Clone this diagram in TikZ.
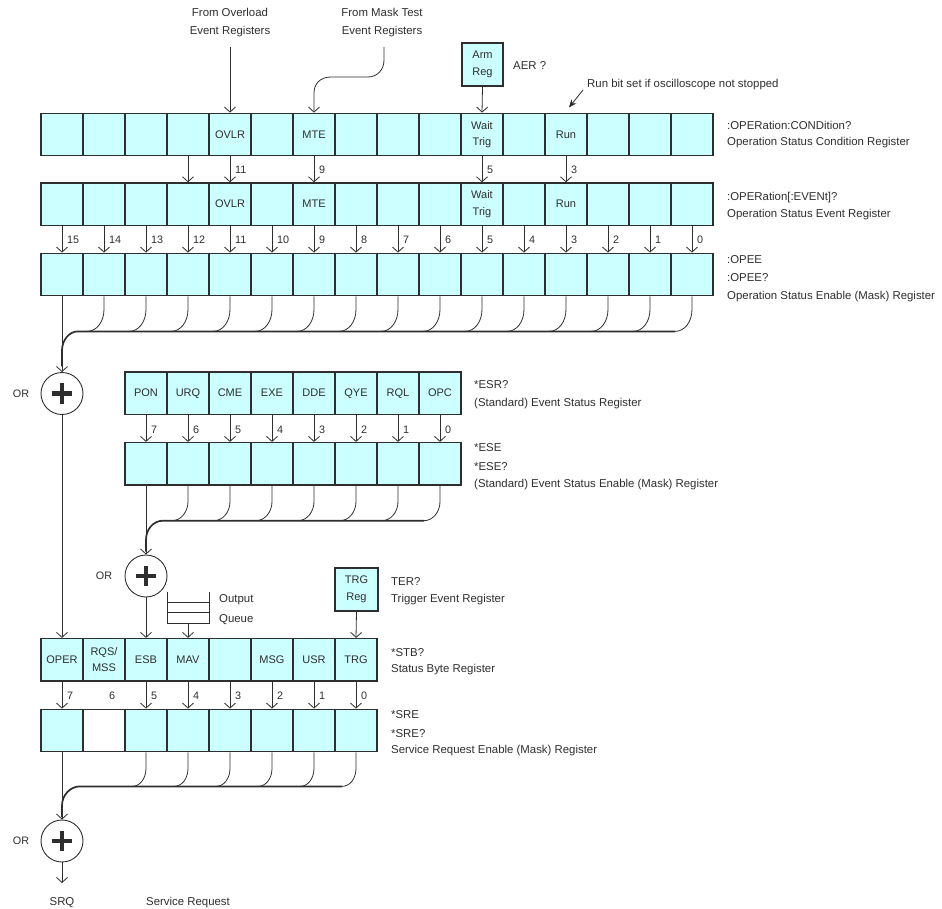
\documentclass[tikz,border=0pt]{standalone}
\usepackage{fontspec}
\setmainfont{Liberation Sans}
\usetikzlibrary{arrows.meta,calc}
\definecolor{cellc}{HTML}{CCFFFF}
\definecolor{ink}{HTML}{2E2E2E}
\begin{document}
\begin{tikzpicture}[x=1pt,y=-1pt,
  cell/.style={draw=ink,fill=cellc,line width=1.3pt,minimum width=42pt,minimum height=42.5pt,inner sep=0pt,text=ink,font=\fontsize{11}{16.5}\selectfont,align=center},
  blank/.style={cell,fill=white},
  conn/.style={draw=ink,line width=0.8pt,-{Straight Barb[length=5pt,width=11pt]}},
  wire/.style={draw=ink,line width=0.8pt},
  bus/.style={draw=ink,line width=1.7pt},
  lbl/.style={text=ink,font=\fontsize{11.4}{17}\selectfont,inner sep=0pt,anchor=base west},
  num/.style={text=ink,font=\fontsize{10.8}{13}\selectfont,inner sep=0pt,anchor=base west},
  orgate/.style={circle,draw=ink,line width=0.9pt,minimum size=42pt,inner sep=0pt},
  plusbar/.style={draw=ink,line width=4.5pt},
]
\useasboundingbox (0,0) rectangle (942,909);

% ---------- Operation status registers ----------
\foreach \b/\t in {15/{},14/{},13/{},12/{},11/OVLR,10/{},9/MTE,8/{},7/{},6/{},5/{Wait\\Trig},4/{},3/Run,2/{},1/{},0/{}}
  \node[cell] (a\b) at ({62+(15-\b)*42},134.5) {\t};
\foreach \b/\t in {15/{},14/{},13/{},12/{},11/OVLR,10/{},9/MTE,8/{},7/{},6/{},5/{Wait\\Trig},4/{},3/Run,2/{},1/{},0/{}}
  \node[cell] (b\b) at ({62+(15-\b)*42},204.2) {\t};
\foreach \b in {15,...,0}
  \node[cell] (c\b) at ({62+(15-\b)*42},274.5) {};

\foreach \b in {12,11,9,5,3} \draw[conn] (a\b.south) -- (b\b.north);
\foreach \b in {11,9,5,3} \node[num] (na\b) at ({67+(15-\b)*42},174) {\b};
\foreach \b in {15,...,0} {
  \draw[conn] (b\b.south) -- (c\b.north);
  \node[num] (nb\b) at ({67+(15-\b)*42},244) {\b};
}

% top inputs
\node[lbl,anchor=base] (ov1) at (230,16.4) {From Overload};
\node[lbl,anchor=base] (ov2) at (230,34.8) {Event Registers};
\node[lbl,anchor=base] (mt1) at (382,16.4) {From Mask Test};
\node[lbl,anchor=base] (mt2) at (382,34.8) {Event Registers};
\coordinate (ovs) at (230,47);
\coordinate (mts) at (384,47);
\draw[conn] (ovs) -- (a11.north);
\draw[conn] (mts) -- ++(0,13) .. controls +(0,10) and +(9,0) .. (368,77) -- (331,77) .. controls +(-11,0) and +(0,-9) .. (314,93) -- (a9.north);

\node[cell,minimum width=41pt,minimum height=43pt] (arm) at (482.5,64.5) {Arm\\Reg};
\node[lbl] (aer) at (513,70) {AER ?};
\draw[conn] (arm.south) -- (a5.north);

\coordinate (runs) at (583,90);
\coordinate (rune) at (569,107.5);
\draw[draw=ink,line width=0.8pt,-{Stealth[length=8pt,width=6.5pt]}] (runs) -- (rune);
\node[lbl] (runt) at (587,88) {Run bit set if oscilloscope not stopped};

\node[lbl] (r1a) at (727,130) {:OPERation:CONDition?};
\node[lbl] (r1b) at (727,146) {Operation Status Condition Register};
\node[lbl] (r2a) at (727,201) {:OPERation[:EVENt]?};
\node[lbl] (r2b) at (727,217.5) {Operation Status Event Register};
\node[lbl] (r3a) at (727,264) {:OPEE};
\node[lbl] (r3b) at (727,282) {:OPEE?};
\node[lbl] (r3c) at (727,299) {Operation Status Enable (Mask) Register};

% collector of operation enable
\foreach \b in {14,...,0}
  \draw[wire] (c\b.south) -- ++(0,13) .. controls +(0,12) and +(10,0) .. ++(-17,22);
\draw[bus] ($(c0.south)+(-17,35)$) -- ($(c15.south)+(16,35)$) .. controls +(-9,0) and +(0,-10) .. ($(c15.south)+(0,54)$) -- ++(0,16);

\node[orgate] (or1) at (62,393.5) {};
\node[num,anchor=center] (orl1) at (21,393.5) {OR};
\draw[conn] (c15.south) -- (or1.north);

% ---------- Standard event status ----------
\foreach \b/\t in {7/PON,6/URQ,5/CME,4/EXE,3/DDE,2/QYE,1/RQL,0/OPC}
  \node[cell] (e\b) at ({146+(7-\b)*42},393.2) {\t};
\foreach \b in {7,...,0}
  \node[cell] (f\b) at ({146+(7-\b)*42},463.8) {};
\foreach \b in {7,...,0} {
  \draw[conn] (e\b.south) -- (f\b.north);
  \node[num] (ne\b) at ({151+(7-\b)*42},433.5) {\b};
}
\node[lbl] (esr1) at (474,388.5) {*ESR?};
\node[lbl] (esr2) at (474,406.5) {(Standard) Event Status Register};
\node[lbl] (ese1) at (474,451.5) {*ESE};
\node[lbl] (ese2) at (474,470) {*ESE?};
\node[lbl] (ese3) at (474,487.5) {(Standard) Event Status Enable (Mask) Register};

\foreach \b in {6,...,0}
  \draw[wire] (f\b.south) -- ++(0,16) .. controls +(0,10) and +(9,0) .. ++(-16,19);
\draw[bus] ($(f0.south)+(-16,35)$) -- ($(f7.south)+(17,35)$) .. controls +(-10,0) and +(0,-10) .. ($(f7.south)+(0,54)$) -- ++(0,12);

\node[orgate] (or2) at (146,576) {};
\node[num,anchor=center] (orl2) at (104,576) {OR};
\draw[conn] (f7.south) -- (or2.north);

% ---------- Status byte ----------
\foreach \b/\t in {7/OPER,6/{RQS/\\MSS},5/ESB,4/MAV,3/{},2/MSG,1/USR,0/TRG}
  \node[cell] (s\b) at ({62+(7-\b)*42},659.8) {\t};
\foreach \b in {7,5,4,3,2,1,0}
  \node[cell] (t\b) at ({62+(7-\b)*42},730.5) {};
\node[blank] (t6) at (104,730.5) {};
\foreach \b in {7,5,4,3,2,1,0}
  \draw[conn] (s\b.south) -- (t\b.north);
\foreach \b in {7,...,0}
  \node[num] (ns\b) at ({67+(7-\b)*42},699) {\b};

\node[minimum width=42pt,minimum height=31.6pt,inner sep=0pt,outer sep=0pt] (q) at (188,607.5) {};
\draw[wire] (q.north west) -- (q.south west) -- (q.south east) -- (q.north east);
\draw[wire] ($(q.north west)!0.33!(q.south west)$) -- ($(q.north east)!0.33!(q.south east)$);
\draw[wire] ($(q.north west)!0.67!(q.south west)$) -- ($(q.north east)!0.67!(q.south east)$);
\node[lbl] (oq1) at (219,602) {Output};
\node[lbl] (oq2) at (219,622) {Queue};
\draw[conn] (q.south) -- (s4.north);

\node[cell,minimum width=43pt,minimum height=43pt] (trgreg) at (356.5,589.5) {TRG\\Reg};
\node[lbl] (ter1) at (391,585) {TER?};
\node[lbl] (ter2) at (391,602.5) {Trigger Event Register};
\draw[conn] (trgreg.south) -- (s0.north);

\draw[conn] (or1.south) -- (s7.north);
\draw[conn] (or2.south) -- (s5.north);

\node[lbl] (stb1) at (391,656) {*STB?};
\node[lbl] (stb2) at (391,672.5) {Status Byte Register};
\node[lbl] (sre1) at (391,718) {*SRE};
\node[lbl] (sre2) at (391,737.5) {*SRE?};
\node[lbl] (sre3) at (391,753.5) {Service Request Enable (Mask) Register};

\foreach \b in {5,...,0}
  \draw[wire] (t\b.south) -- ++(0,16) .. controls +(0,10) and +(8,0) .. ++(-14,18);
\draw[bus] ($(t0.south)+(-14,34)$) -- ($(t7.south)+(18,34)$) .. controls +(-10,0) and +(0,-10) .. ($(t7.south)+(0,53)$) -- ++(0,12);

\node[orgate] (or3) at (62,841) {};
\node[num,anchor=center] (orl3) at (21,841) {OR};
\draw[conn] (t7.south) -- (or3.north);
\coordinate (srqend) at (62,883);
\draw[conn] (or3.south) -- (srqend);
\node[lbl,anchor=base] (srq) at (62,905) {SRQ};
\node[lbl] (srqt) at (146,905) {Service Request};

% plus signs
\foreach \g in {or1,or2,or3} {
  \draw[plusbar] ([xshift=-10.3pt]\g.center) -- ([xshift=10.3pt]\g.center);
  \draw[plusbar] ([yshift=-10.3pt]\g.center) -- ([yshift=10.3pt]\g.center);
}
\end{tikzpicture}
\end{document}
